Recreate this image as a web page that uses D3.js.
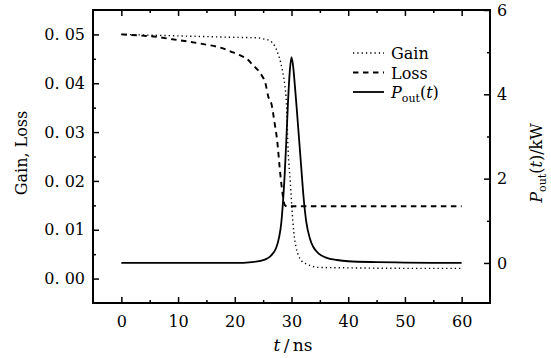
<!DOCTYPE html>
<html>
<head>
<meta charset="utf-8">
<script src="https://cdn.jsdelivr.net/npm/d3@7"></script>
<style>
  body { margin: 0; background: #fff; }
  svg text { font-family: "DejaVu Serif", "Liberation Serif", serif !important; fill: #000; }
</style>
</head>
<body>
<div id="viz"></div>
<script>
// values
const gainT = [0, 5, 10, 15, 20, 24, 25, 26.2, 27, 27.6, 28.1, 28.5, 28.8, 29.1, 29.4, 29.8, 30.1, 30.4, 30.8, 31.2, 31.8, 32.6, 33.5, 34.4, 40, 50, 60];
const gainV = [0.0500, 0.04985, 0.0497, 0.04955, 0.0494, 0.0493, 0.0491, 0.0487, 0.0477, 0.0461, 0.0442, 0.0420, 0.0398, 0.0360, 0.0263, 0.0196, 0.0140, 0.0095, 0.0064, 0.0048, 0.0036, 0.0030, 0.0026, 0.0023, 0.0022, 0.0021, 0.0021];

const lossT = [0, 3, 6.2, 9, 12, 15, 16.8, 18.5, 19.7, 21, 21.7, 22.5, 23.2, 24, 24.7, 25.4, 25.9, 26.5, 27, 27.5, 27.9, 28.2, 28.5, 28.8, 29.2, 35, 45, 60];
const lossV = [0.0500, 0.0498, 0.0495, 0.0490, 0.0485, 0.0479, 0.0475, 0.0469, 0.0463, 0.0457, 0.0453, 0.0446, 0.0437, 0.0428, 0.0417, 0.0400, 0.0373, 0.0356, 0.0320, 0.0280, 0.0229, 0.0195, 0.0168, 0.0151, 0.0148, 0.0148, 0.0148, 0.0148];

const powT = [0, 10, 20, 23, 24.5, 25.5, 26.2, 26.8, 27.3, 27.8, 28.2, 28.5, 28.8, 29.1, 29.4, 29.7, 30, 30.3, 30.6, 30.9, 31.3, 31.7, 32.1, 32.6, 33.2, 33.8, 34.8, 36.2, 38, 40, 45, 50, 60];
const powV = [0, 0, 0, 0.02, 0.05, 0.09, 0.15, 0.24, 0.36, 0.6, 0.95, 1.45, 2.1, 2.95, 3.86, 4.55, 4.88, 4.65, 4.2, 3.7, 3.0, 2.3, 1.6, 0.98, 0.6, 0.39, 0.22, 0.12, 0.07, 0.04, 0.02, 0.01, 0];

const xTicks = [0, 10, 20, 30, 40, 50, 60];
const yLeftTicks = [0, 0.01, 0.02, 0.03, 0.04, 0.05];
const yRightTicks = [0, 2, 4, 6];

const W = 551, H = 358;
const L = 93, R = 490, T = 10, B = 303;
const FONT = "DejaVu Serif";
const FS = 16;

const svg = d3.select("#viz").append("svg")
    .attr("width", W)
    .attr("height", H);

const x = d3.scaleLinear().domain([-5, 65]).range([L, R]);
const yL = d3.scaleLinear().domain([-0.005, 0.055]).range([B, T]);
const yR = d3.scaleLinear().domain([-0.95, 6]).range([B, T]);

const fmtLeft = d => d.toFixed(2).replace(".", ".\u00a0");

// bottom axis with labels, inner ticks
svg.append("g")
    .attr("transform", `translate(0,${B})`)
    .call(d3.axisBottom(x).tickValues(xTicks).tickSize(-6).tickPadding(13).tickFormat(d3.format("d")));
// minor ticks
svg.append("g")
    .attr("transform", `translate(0,${B})`)
    .call(d3.axisBottom(x).tickValues(d3.range(5, 60, 10)).tickSize(-3).tickFormat(""));
// top mirror ticks
svg.append("g")
    .attr("transform", `translate(0,${T})`)
    .call(d3.axisTop(x).tickValues(xTicks).tickSize(-6).tickFormat(""));
svg.append("g")
    .attr("transform", `translate(0,${T})`)
    .call(d3.axisTop(x).tickValues(d3.range(5, 60, 10)).tickSize(-3).tickFormat(""));

// left axis
svg.append("g")
    .attr("transform", `translate(${L},0)`)
    .call(d3.axisLeft(yL).tickValues(yLeftTicks).tickSize(-6).tickPadding(8).tickFormat(fmtLeft));
svg.append("g")
    .attr("transform", `translate(${L},0)`)
    .call(d3.axisLeft(yL).tickValues(d3.range(0.005, 0.05, 0.01)).tickSize(-3).tickFormat(""));

// right axis
svg.append("g")
    .attr("transform", `translate(${R},0)`)
    .call(d3.axisRight(yR).tickValues(yRightTicks).tickSize(-6).tickPadding(7).tickFormat(d3.format("d")));
svg.append("g")
    .attr("transform", `translate(${R},0)`)
    .call(d3.axisRight(yR).tickValues([1, 3, 5]).tickSize(-3).tickFormat(""));

svg.selectAll(".domain").remove();
svg.selectAll("g").attr("font-family", FONT).attr("font-size", FS);
svg.selectAll(".tick line").attr("stroke", "#000").attr("stroke-width", 1.5);

// frame
svg.append("rect")
    .attr("x", L).attr("y", T)
    .attr("width", R - L).attr("height", B - T)
    .attr("fill", "none")
    .attr("stroke", "#000")
    .attr("stroke-width", 2);

// curves
const lineL = d3.line().x(d => x(d[0])).y(d => yL(d[1])).curve(d3.curveMonotoneX);
const lineR = d3.line().x(d => x(d[0])).y(d => yR(d[1])).curve(d3.curveMonotoneX);

const gainDash = "1.3,3";
const lossDash = "5.5,4.5";

svg.append("path")
    .datum(gainT.map((t, i) => [t, gainV[i]]))
    .attr("d", lineL)
    .attr("fill", "none")
    .attr("stroke", "#000")
    .attr("stroke-width", 1.4)
    .attr("stroke-dasharray", gainDash);

svg.append("path")
    .datum(lossT.map((t, i) => [t, lossV[i]]))
    .attr("d", lineL)
    .attr("fill", "none")
    .attr("stroke", "#000")
    .attr("stroke-width", 1.9)
    .attr("stroke-dasharray", lossDash);

svg.append("path")
    .datum(powT.map((t, i) => [t, powV[i]]))
    .attr("d", lineR)
    .attr("fill", "none")
    .attr("stroke", "#000")
    .attr("stroke-width", 1.8);

// legend
const legend = svg.append("g");
const items = [
    { y: 53, dash: gainDash, w: 1.4 },
    { y: 72.5, dash: lossDash, w: 1.9 },
    { y: 92, dash: null, w: 1.8 }
];
items.forEach(it => {
    legend.append("line")
        .attr("x1", 353).attr("x2", 384)
        .attr("y1", it.y).attr("y2", it.y)
        .attr("stroke", "#000")
        .attr("stroke-width", it.w)
        .attr("stroke-dasharray", it.dash);
});
legend.append("text").attr("x", 391).attr("y", 59).style("font-size", FS + "px").text("Gain");
legend.append("text").attr("x", 391).attr("y", 78.5).style("font-size", FS + "px").text("Loss");
const pl = legend.append("text").attr("x", 391).attr("y", 98).style("font-size", FS + "px");
pl.append("tspan").style("font-style", "italic").text("P");
pl.append("tspan").attr("dy", 4).style("font-size", "11px").text("out");
pl.append("tspan").attr("dy", -4).text("(");
pl.append("tspan").style("font-style", "italic").text("t");
pl.append("tspan").text(")");

// axis titles
svg.append("text")
    .attr("transform", `translate(27,153) rotate(-90)`)
    .attr("text-anchor", "middle")
    .style("font-size", FS + "px")
    .text("Gain, Loss");

const xt = svg.append("text")
    .attr("x", 293).attr("y", 351)
    .attr("text-anchor", "middle")
    .style("font-size", "17px");
xt.append("tspan").style("font-style", "italic").text("t");
xt.append("tspan").text("\u2009/\u2009ns");

const rt = svg.append("text")
    .attr("transform", `translate(542,163) rotate(-90)`)
    .attr("text-anchor", "middle")
    .style("font-size", FS + "px");
rt.append("tspan").style("font-style", "italic").text("P");
rt.append("tspan").attr("dy", 4).style("font-size", "11px").text("out");
rt.append("tspan").attr("dy", -4).text("(");
rt.append("tspan").style("font-style", "italic").text("t");
rt.append("tspan").text(")/kW");
</script>
</body>
</html>
